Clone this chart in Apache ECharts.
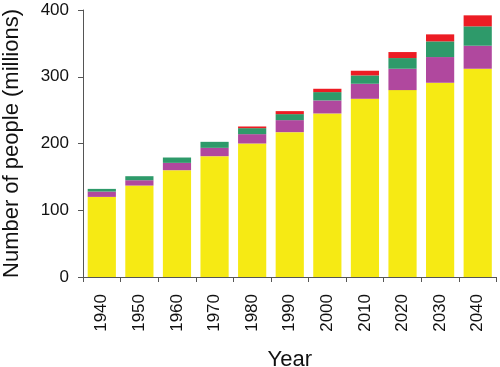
<!DOCTYPE html>
<html><head><meta charset="utf-8">
<script src="https://cdn.jsdelivr.net/npm/echarts@6/dist/echarts.min.js"></script>
<style>html,body{margin:0;padding:0;background:#fff}#c{width:500px;height:367px}</style>
</head><body><div id="c"></div>
<script>
const years = ['1940','1950','1960','1970','1980','1990','2000','2010','2020','2030','2040'];
const yellow  = [120, 137, 160, 181, 200, 217, 245, 267, 280, 291, 312];
const magenta = [8, 8, 11, 12.5, 14, 18, 19.5, 22.5, 32, 38.5, 34.5];
const green   = [4, 6, 8, 9, 9, 9, 12.5, 12.5, 16, 23.5, 29];
const red     = [0, 0, 0, 0, 2.5, 4.5, 5, 7, 9, 10.5, 16.5];
const yTicks = [0, 100, 200, 300, 400];

const font = 'Liberation Sans, Arial, sans-serif';
const chart = echarts.init(document.getElementById('c'));
const mk = (name, data, color) => ({
  name, type: 'bar', stack: 'total', data, barCategoryGap: '25%',
  itemStyle: { color }, emphasis: { disabled: true }
});
chart.setOption({
  animation: false,
  grid: { left: 83, right: 3.5, top: 10, bottom: 90, outerBoundsMode: 'none', containLabel: false },
  xAxis: {
    type: 'category', data: years,
    name: 'Year', nameLocation: 'middle', nameGap: 72,
    nameTextStyle: { fontSize: 22, color: '#111', fontFamily: font },
    axisLine: { lineStyle: { color: '#555', width: 1 } },
    axisTick: { show: true, inside: false, length: 5, alignWithLabel: false, lineStyle: { color: '#555' } },
    axisLabel: { rotate: 90, fontSize: 17, color: '#111', fontFamily: font, margin: 17 }
  },
  yAxis: {
    type: 'value', min: yTicks[0], max: yTicks[yTicks.length - 1], interval: 100,
    name: 'Number of people (millions)', nameLocation: 'middle', nameGap: 60,
    nameTextStyle: { fontSize: 22, color: '#111', fontFamily: font },
    axisLine: { show: true, lineStyle: { color: '#555', width: 1 } },
    axisTick: { show: true, length: 5, lineStyle: { color: '#555' } },
    axisLabel: { fontSize: 17, color: '#111', fontFamily: font, margin: 14 },
    splitLine: { show: false }
  },
  series: [
    mk('a', yellow, '#f6ea14'),
    mk('b', magenta, '#b0489e'),
    mk('c', green, '#2e9a6a'),
    mk('d', red, '#ec1c24')
  ]
});
</script></body></html>
